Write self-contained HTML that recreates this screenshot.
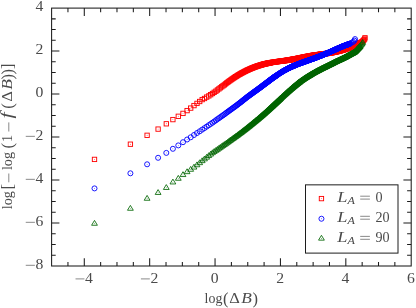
<!DOCTYPE html>
<html><head><meta charset="utf-8"><title>plot</title>
<style>
html,body{margin:0;padding:0;background:#fff;}
body{width:416px;height:308px;overflow:hidden;}
svg{display:block;font-family:"Liberation Serif",serif;}
</style></head><body>
<svg width="416" height="308" viewBox="0 0 416 308">
<defs>
<marker id="mr" markerWidth="8" markerHeight="8" refX="4" refY="4" markerUnits="userSpaceOnUse" overflow="visible"><rect x="1.83" y="1.83" width="4.34" height="4.34" fill="none" stroke="#ff0000" stroke-width="0.92"/><circle cx="4" cy="4" r="0.45" fill="#ff0000"/></marker>
<marker id="mb" markerWidth="8" markerHeight="8" refX="4" refY="4" markerUnits="userSpaceOnUse" overflow="visible"><circle cx="4" cy="4" r="2.52" fill="none" stroke="#0000ff" stroke-width="0.9"/><circle cx="4" cy="4" r="0.42" fill="#0000ff"/></marker>
<marker id="mg" markerWidth="8" markerHeight="8" refX="4" refY="4" markerUnits="userSpaceOnUse" overflow="visible"><path d="M4 1.3L6.9 6.15H1.1Z" fill="none" stroke="#006400" stroke-width="0.85"/><circle cx="4" cy="4.5" r="0.42" fill="#006400"/></marker>
</defs>
<rect width="416" height="308" fill="#fff"/>
<g>
<polyline points="94.5,159.4 130.4,144.2 147.1,135.3 158.1,129.1 166.3,123.8 172.9,119.6 178.3,116.3 183.0,113.4 187.1,110.6 190.7,108.1 194.0,105.6 197.0,103.4 199.7,101.5 202.2,99.6 204.5,98.5 206.7,97.1 208.8,95.9 210.7,94.7 212.5,93.5 214.2,92.3 215.9,91.2 217.4,90.0 218.9,88.9 220.3,87.8 221.7,86.8 223.0,85.8 224.3,84.9 225.5,83.9 226.6,83.0 227.8,82.2 228.8,81.4 229.9,80.6 230.9,79.9 231.9,79.2 232.9,78.5 233.8,77.9 234.7,77.3 235.6,76.7 236.5,76.2 237.3,75.6 238.1,75.1 238.9,74.6 239.7,74.2 240.5,73.8 241.2,73.3 241.9,72.9 242.6,72.6 243.3,72.2 244.0,71.8 244.7,71.5 245.3,71.2 246.0,70.8 246.6,70.5 247.2,70.2 247.8,70.0 248.4,69.7 249.0,69.4 249.6,69.2 250.1,68.9 250.7,68.7 251.2,68.4 251.8,68.2 252.3,68.0 252.8,67.8 253.3,67.6 253.8,67.4 254.3,67.2 254.8,67.0 255.3,66.8 255.8,66.7 256.2,66.5 256.7,66.3 257.2,66.2 257.6,66.0 258.0,65.9 258.5,65.7 258.9,65.6 259.3,65.5 259.8,65.3 260.2,65.2 260.6,65.1 261.0,65.0 261.4,64.9 261.8,64.7 262.2,64.6 262.5,64.5 262.9,64.4 263.3,64.3 263.7,64.2 264.0,64.1 264.4,64.0 264.8,63.9 265.1,63.9 265.5,63.8 265.8,63.7 266.2,63.6 266.5,63.5 266.8,63.5 267.2,63.4 267.5,63.3 267.8,63.2 268.2,63.2 268.5,63.1 268.8,63.0 269.1,63.0 269.4,62.9 269.7,62.8 270.0,62.8 270.3,62.7 270.6,62.7 270.9,62.6 271.5,62.5 272.1,62.4 272.7,62.3 273.2,62.2 273.8,62.2 274.3,62.1 274.8,62.0 275.4,61.9 275.9,61.8 276.4,61.8 276.9,61.7 277.4,61.6 277.8,61.6 278.3,61.5 278.8,61.4 279.2,61.4 279.7,61.3 280.2,61.2 280.6,61.2 281.0,61.1 281.5,61.1 281.9,61.0 282.3,61.0 282.7,60.9 283.1,60.8 283.5,60.8 283.9,60.7 284.3,60.7 284.7,60.6 285.1,60.6 285.5,60.5 285.9,60.5 286.2,60.4 286.6,60.4 287.0,60.3 287.3,60.2 287.7,60.2 288.0,60.1 288.4,60.1 288.7,60.0 289.1,60.0 289.4,59.9 289.8,59.9 290.1,59.8 290.4,59.8 290.7,59.7 291.1,59.6 291.4,59.6 291.7,59.5 292.0,59.5 292.3,59.4 292.6,59.4 292.9,59.3 293.2,59.2 293.5,59.2 293.8,59.1 294.3,59.1 294.7,59.0 295.1,58.9 295.5,58.8 295.9,58.7 296.4,58.6 296.8,58.6 297.2,58.5 297.6,58.4 297.9,58.3 298.3,58.2 298.7,58.2 299.1,58.1 299.5,58.0 299.8,57.9 300.2,57.9 300.6,57.8 300.9,57.7 301.3,57.6 301.6,57.6 302.0,57.5 302.3,57.4 302.6,57.4 303.0,57.3 303.3,57.2 303.6,57.2 304.0,57.1 304.3,57.0 304.6,57.0 304.9,56.9 305.2,56.8 305.5,56.8 305.8,56.7 306.1,56.7 306.5,56.6 306.7,56.5 307.0,56.5 307.4,56.4 307.8,56.3 308.2,56.3 308.6,56.2 308.9,56.1 309.3,56.0 309.7,56.0 310.0,55.9 310.4,55.8 310.7,55.8 311.1,55.7 311.4,55.7 311.8,55.6 312.1,55.5 312.5,55.5 312.8,55.4 313.1,55.4 313.4,55.3 313.8,55.3 314.1,55.2 314.4,55.2 314.7,55.1 315.0,55.1 315.3,55.0 315.6,55.0 315.9,54.9 316.2,54.9 316.6,54.9 316.9,54.8 317.3,54.8 317.7,54.7 318.0,54.7 318.4,54.6 318.7,54.6 319.1,54.5 319.4,54.5 319.7,54.4 320.1,54.4 320.4,54.3 320.7,54.3 321.0,54.2 321.3,54.2 321.7,54.2 322.0,54.1 322.3,54.1 322.6,54.0 322.9,54.0 323.2,54.0 323.5,53.9 323.8,53.9 324.2,53.8 324.5,53.8 324.9,53.7 325.2,53.7 325.6,53.6 325.9,53.6 326.2,53.5 326.5,53.5 326.9,53.5 327.2,53.4 327.5,53.4 327.8,53.3 328.1,53.3 328.4,53.2 328.7,53.2 329.0,53.1 329.3,53.1 329.7,53.0 330.0,53.0 330.4,52.9 330.7,52.9 331.0,52.8 331.4,52.7 331.7,52.7 332.0,52.6 332.3,52.6 332.6,52.5 332.9,52.4 333.3,52.4 333.6,52.3 333.9,52.2 334.2,52.2 334.5,52.1 334.8,52.1 335.1,52.0 335.4,51.9 335.7,51.8 336.1,51.8 336.4,51.7 336.7,51.6 337.0,51.6 337.3,51.5 337.6,51.4 338.0,51.3 338.3,51.3 338.6,51.2 338.9,51.1 339.2,51.0 339.4,51.0 339.8,50.9 340.1,50.8 340.4,50.7 340.7,50.6 341.0,50.5 341.4,50.4 341.7,50.3 342.0,50.2 342.3,50.2 342.6,50.1 342.9,50.0 343.2,49.9 343.4,49.8 343.7,49.7 344.0,49.6 344.3,49.5 344.6,49.4 345.0,49.3 345.3,49.2 345.6,49.1 345.9,49.0 346.2,48.8 346.5,48.7 346.7,48.6 347.0,48.5 347.3,48.4 347.6,48.3 347.9,48.2 348.2,48.1 348.5,48.0 348.8,47.9 349.1,47.8 349.4,47.6 349.7,47.5 350.0,47.4 350.3,47.3 350.6,47.2 350.8,47.1 351.1,47.0 351.4,46.9 351.7,46.7 352.0,46.6 352.3,46.5 352.6,46.4 352.9,46.3 353.2,46.2 353.5,46.0 353.8,45.9 354.0,45.8 354.3,45.7 354.6,45.6 354.9,45.4 355.2,45.3 355.5,45.2 355.8,45.0 356.1,44.9 356.4,44.8 356.6,44.6 356.9,44.5 357.2,44.4 357.5,44.2 357.7,44.1 358.0,43.9 358.3,43.8 358.5,43.6 358.8,43.5 359.1,43.3 359.3,43.2 359.6,43.0 359.8,42.9 360.1,42.7 360.4,42.5 361.6,41.9 362.6,41.2 363.4,40.5 364.0,39.8 364.6,39.0 365.0,37.8" fill="none" stroke="none" marker-start="url(#mr)" marker-mid="url(#mr)" marker-end="url(#mr)"/>
<polyline points="94.5,188.4 130.4,173.3 147.1,164.3 158.1,157.8 166.3,152.9 172.9,148.8 178.3,145.4 183.0,142.2 187.1,139.5 190.7,137.3 194.0,135.0 197.0,133.0 199.7,131.3 202.2,129.6 204.5,128.1 206.7,126.6 208.8,125.2 210.7,123.9 212.5,122.7 214.2,121.5 215.9,120.3 217.4,119.2 218.9,118.2 220.3,117.2 221.7,116.2 223.0,115.3 224.3,114.4 225.5,113.5 226.6,112.6 227.8,111.8 228.8,111.0 229.9,110.3 230.9,109.5 231.9,108.8 232.9,108.1 233.8,107.4 234.7,106.8 235.6,106.1 236.5,105.5 237.3,104.8 238.1,104.2 238.9,103.6 239.7,103.0 240.5,102.4 241.2,101.8 241.9,101.3 242.6,100.7 243.3,100.1 244.0,99.6 244.7,99.1 245.3,98.5 246.0,98.0 246.6,97.5 247.2,97.1 247.8,96.6 248.4,96.2 249.0,95.7 249.6,95.3 250.1,94.9 250.7,94.5 251.2,94.1 251.8,93.7 252.3,93.3 252.8,92.9 253.3,92.6 253.8,92.2 254.3,91.8 254.8,91.5 255.3,91.1 255.8,90.8 256.2,90.5 256.7,90.1 257.2,89.8 257.6,89.5 258.0,89.2 258.5,88.8 258.9,88.5 259.3,88.2 259.8,87.9 260.2,87.6 260.6,87.3 261.0,87.0 261.4,86.7 261.8,86.4 262.2,86.1 262.5,85.8 262.9,85.5 263.3,85.2 263.7,85.0 264.0,84.7 264.4,84.4 264.8,84.1 265.1,83.9 265.5,83.6 265.8,83.3 266.2,83.1 266.5,82.8 266.8,82.6 267.2,82.3 267.5,82.1 267.8,81.8 268.2,81.6 268.5,81.3 268.8,81.1 269.1,80.9 269.4,80.6 269.7,80.4 270.0,80.2 270.3,79.9 270.6,79.7 270.9,79.5 271.2,79.3 271.5,79.1 271.8,78.8 272.1,78.6 272.4,78.4 272.7,78.2 272.9,78.0 273.2,77.8 273.5,77.6 273.8,77.4 274.0,77.2 274.3,77.0 274.6,76.8 274.8,76.7 275.1,76.5 275.4,76.3 275.6,76.1 275.9,75.9 276.1,75.8 276.4,75.6 276.6,75.4 276.9,75.2 277.4,74.9 277.8,74.6 278.3,74.3 278.8,73.9 279.2,73.6 279.7,73.3 280.2,73.1 280.6,72.8 281.0,72.5 281.5,72.2 281.9,72.0 282.3,71.7 282.7,71.5 283.1,71.2 283.5,71.0 283.9,70.7 284.3,70.5 284.7,70.3 285.1,70.1 285.5,69.9 285.9,69.7 286.2,69.5 286.6,69.3 287.0,69.1 287.3,68.9 287.7,68.7 288.0,68.5 288.4,68.3 288.7,68.2 289.1,68.0 289.4,67.8 289.8,67.7 290.1,67.5 290.4,67.3 290.7,67.2 291.1,67.1 291.4,66.9 291.7,66.8 292.0,66.6 292.3,66.5 292.6,66.4 292.9,66.2 293.2,66.1 293.5,66.0 293.8,65.9 294.1,65.7 294.4,65.6 294.7,65.5 295.0,65.4 295.3,65.3 295.5,65.1 295.9,65.0 296.4,64.8 296.8,64.6 297.2,64.5 297.6,64.3 297.9,64.2 298.3,64.0 298.7,63.9 299.1,63.7 299.5,63.6 299.8,63.5 300.2,63.3 300.6,63.2 300.9,63.1 301.3,62.9 301.6,62.8 302.0,62.7 302.3,62.6 302.6,62.4 303.0,62.3 303.3,62.2 303.6,62.1 304.0,62.0 304.3,61.8 304.6,61.7 304.9,61.6 305.2,61.5 305.5,61.4 305.8,61.3 306.1,61.2 306.5,61.1 306.7,61.0 307.0,60.9 307.3,60.8 307.6,60.7 307.9,60.6 308.2,60.5 308.6,60.3 308.9,60.2 309.3,60.1 309.7,59.9 310.0,59.8 310.4,59.7 310.7,59.6 311.1,59.4 311.4,59.3 311.8,59.2 312.1,59.1 312.5,59.0 312.8,58.8 313.1,58.7 313.4,58.6 313.8,58.5 314.1,58.4 314.4,58.2 314.7,58.1 315.0,58.0 315.3,57.9 315.6,57.8 315.9,57.7 316.2,57.5 316.5,57.4 316.8,57.3 317.1,57.2 317.4,57.1 317.7,57.0 317.9,56.9 318.3,56.8 318.6,56.6 319.0,56.5 319.3,56.4 319.7,56.2 320.0,56.1 320.3,56.0 320.6,55.8 321.0,55.7 321.3,55.6 321.6,55.5 321.9,55.3 322.2,55.2 322.5,55.1 322.8,55.0 323.1,54.9 323.4,54.7 323.7,54.6 324.0,54.5 324.3,54.4 324.6,54.3 324.9,54.1 325.2,54.0 325.4,53.9 325.7,53.8 326.1,53.7 326.4,53.5 326.7,53.4 327.0,53.3 327.3,53.1 327.7,53.0 328.0,52.9 328.3,52.7 328.6,52.6 328.9,52.5 329.2,52.3 329.5,52.2 329.8,52.1 330.1,51.9 330.4,51.8 330.6,51.7 330.9,51.6 331.2,51.4 331.5,51.3 331.8,51.2 332.0,51.1 332.4,50.9 332.7,50.8 333.0,50.6 333.3,50.5 333.6,50.4 333.9,50.2 334.2,50.1 334.5,49.9 334.8,49.8 335.1,49.7 335.4,49.5 335.7,49.4 336.0,49.3 336.2,49.2 336.5,49.0 336.8,48.9 337.1,48.8 337.4,48.6 337.7,48.5 338.0,48.4 338.3,48.2 338.6,48.1 338.9,48.0 339.2,47.8 339.5,47.7 339.8,47.6 340.1,47.5 340.3,47.3 340.6,47.2 340.9,47.1 341.2,47.0 341.5,46.9 341.8,46.7 342.1,46.6 342.4,46.5 342.7,46.4 343.0,46.2 343.3,46.1 343.6,46.0 343.9,45.9 344.1,45.8 344.4,45.7 344.7,45.6 345.0,45.5 345.4,45.3 345.7,45.2 346.0,45.1 346.3,45.0 346.5,44.9 346.8,44.8 347.1,44.7 347.4,44.6 347.7,44.5 348.0,44.4 348.3,44.3 348.6,44.2 348.9,44.1 349.2,44.0 349.5,43.9 349.8,43.7 350.1,43.6 351.6,42.7 353.2,41.9 354.4,40.6 355.0,39.1" fill="none" stroke="none" marker-start="url(#mb)" marker-mid="url(#mb)" marker-end="url(#mb)"/>
<polyline points="94.5,223.1 130.4,208.1 147.1,198.1 158.1,192.3 166.3,187.3 172.9,181.8 178.3,178.1 183.0,174.4 187.1,171.5 190.7,169.1 194.0,166.9 197.0,164.6 199.7,162.5 202.2,160.5 204.5,158.7 206.7,157.0 208.8,155.4 210.7,153.9 212.5,152.5 214.2,151.3 215.9,150.2 217.4,149.2 218.9,148.1 220.3,147.2 221.7,146.2 223.0,145.3 224.3,144.4 225.5,143.6 226.6,142.8 227.8,142.0 228.8,141.2 229.9,140.4 230.9,139.7 231.9,139.0 232.9,138.3 233.8,137.6 234.7,137.0 235.6,136.3 236.5,135.7 237.3,135.1 238.1,134.5 238.9,133.9 239.7,133.3 240.5,132.7 241.2,132.2 241.9,131.6 242.6,131.1 243.3,130.5 244.0,130.0 244.7,129.5 245.3,129.0 246.0,128.5 246.6,128.0 247.2,127.5 247.8,127.0 248.4,126.5 249.0,126.1 249.6,125.6 250.1,125.1 250.7,124.7 251.2,124.3 251.8,123.8 252.3,123.4 252.8,123.0 253.3,122.5 253.8,122.1 254.3,121.7 254.8,121.3 255.3,120.9 255.8,120.5 256.2,120.1 256.7,119.7 257.2,119.4 257.6,119.0 258.0,118.6 258.5,118.2 258.9,117.9 259.3,117.5 259.8,117.2 260.2,116.8 260.6,116.4 261.0,116.1 261.4,115.7 261.8,115.4 262.2,115.1 262.5,114.7 262.9,114.4 263.3,114.1 263.7,113.7 264.0,113.4 264.4,113.1 264.8,112.8 265.1,112.5 265.5,112.1 265.8,111.8 266.2,111.5 266.5,111.2 266.8,110.9 267.2,110.6 267.5,110.3 267.8,110.0 268.2,109.7 268.5,109.4 268.8,109.1 269.1,108.8 269.4,108.6 269.7,108.3 270.0,108.0 270.3,107.7 270.6,107.4 270.9,107.2 271.2,106.9 271.5,106.6 271.8,106.3 272.1,106.1 272.4,105.8 272.7,105.6 272.9,105.3 273.2,105.0 273.5,104.8 273.8,104.5 274.0,104.3 274.3,104.0 274.6,103.8 274.8,103.5 275.1,103.3 275.4,103.0 275.6,102.8 275.9,102.6 276.1,102.3 276.4,102.1 276.6,101.8 276.9,101.6 277.1,101.4 277.4,101.2 277.6,100.9 277.8,100.7 278.1,100.5 278.3,100.3 278.6,100.0 278.8,99.8 279.0,99.6 279.2,99.4 279.5,99.2 279.7,99.0 279.9,98.8 280.2,98.5 280.4,98.3 280.6,98.1 281.0,97.7 281.5,97.3 281.9,96.9 282.3,96.5 282.7,96.2 283.1,95.8 283.5,95.4 283.9,95.0 284.3,94.7 284.7,94.3 285.1,94.0 285.5,93.6 285.9,93.3 286.2,92.9 286.6,92.6 287.0,92.3 287.3,91.9 287.7,91.6 288.0,91.3 288.4,91.0 288.7,90.7 289.1,90.4 289.4,90.1 289.8,89.8 290.1,89.5 290.4,89.2 290.7,88.9 291.1,88.7 291.4,88.4 291.7,88.1 292.0,87.9 292.3,87.6 292.6,87.3 292.9,87.1 293.2,86.8 293.5,86.6 293.8,86.3 294.1,86.1 294.4,85.8 294.7,85.6 295.0,85.4 295.3,85.1 295.5,84.9 295.8,84.7 296.1,84.4 296.4,84.2 296.6,84.0 296.9,83.8 297.2,83.6 297.4,83.4 297.7,83.2 297.9,83.0 298.2,82.7 298.5,82.5 298.7,82.3 299.0,82.2 299.2,82.0 299.5,81.8 299.7,81.6 300.0,81.4 300.3,81.1 300.7,80.9 301.0,80.6 301.4,80.4 301.7,80.1 302.1,79.9 302.4,79.7 302.8,79.4 303.1,79.2 303.4,79.0 303.7,78.8 304.1,78.5 304.4,78.3 304.7,78.1 305.0,77.9 305.3,77.7 305.6,77.5 305.9,77.3 306.3,77.1 306.6,76.9 306.8,76.7 307.1,76.6 307.4,76.4 307.7,76.2 308.0,76.0 308.3,75.9 308.6,75.7 308.9,75.5 309.1,75.4 309.4,75.2 309.7,75.0 309.9,74.9 310.2,74.7 310.5,74.6 310.7,74.4 311.0,74.2 311.3,74.1 311.5,73.9 311.9,73.7 312.2,73.5 312.5,73.3 312.9,73.1 313.2,72.9 313.5,72.8 313.8,72.6 314.2,72.4 314.5,72.2 314.8,72.0 315.1,71.9 315.4,71.7 315.7,71.5 316.0,71.4 316.3,71.2 316.6,71.1 316.9,70.9 317.2,70.8 317.4,70.6 317.7,70.5 318.0,70.3 318.3,70.2 318.6,70.0 318.8,69.9 319.1,69.7 319.4,69.6 319.7,69.5 320.0,69.3 320.3,69.1 320.6,69.0 321.0,68.8 321.3,68.6 321.6,68.5 321.9,68.3 322.2,68.2 322.5,68.0 322.8,67.9 323.1,67.7 323.4,67.6 323.7,67.4 324.0,67.3 324.3,67.1 324.6,67.0 324.9,66.9 325.2,66.7 325.4,66.6 325.7,66.5 326.0,66.3 326.3,66.2 326.5,66.0 326.9,65.9 327.2,65.7 327.5,65.6 327.8,65.4 328.1,65.3 328.4,65.1 328.7,65.0 329.0,64.8 329.3,64.7 329.6,64.5 329.9,64.4 330.2,64.2 330.5,64.1 330.8,63.9 331.1,63.8 331.4,63.7 331.6,63.5 331.9,63.4 332.2,63.2 332.5,63.1 332.7,63.0 333.0,62.8 333.3,62.7 333.6,62.5 333.9,62.3 334.2,62.2 334.5,62.0 334.8,61.9 335.1,61.7 335.4,61.6 335.7,61.5 336.0,61.3 336.2,61.2 336.5,61.1 336.8,60.9 337.1,60.8 337.4,60.7 337.7,60.5 338.0,60.4 338.3,60.3 338.6,60.1 338.9,60.0 339.2,59.8 339.5,59.7 339.8,59.6 340.1,59.4 340.3,59.3 340.6,59.2 340.9,59.0 341.2,58.9 341.5,58.8 341.7,58.7 342.0,58.5 342.3,58.4 342.6,58.2 342.9,58.1 343.2,57.9 343.5,57.8 343.8,57.7 344.1,57.5 344.4,57.4 344.6,57.3 344.9,57.1 345.2,57.0 345.5,56.8 345.7,56.7 346.0,56.5 346.3,56.4 346.5,56.2 346.8,56.1 347.1,55.9 347.4,55.8 347.7,55.6 347.9,55.4 348.2,55.3 348.5,55.1 348.8,55.0 349.1,54.8 349.3,54.7 349.6,54.5 349.9,54.4 350.1,54.2 350.4,54.1 350.7,53.9 351.0,53.8 351.3,53.6 351.5,53.5 351.8,53.3 352.1,53.2 352.4,53.0 352.6,52.9 352.9,52.8 353.2,52.6 353.5,52.5 353.8,52.3 354.0,52.1 354.3,52.0 354.6,51.8 354.8,51.5 355.0,51.3 355.3,51.1 355.5,50.9 355.7,50.7 355.9,50.5 356.1,50.3 356.4,50.0 356.6,49.8 356.8,49.6 357.0,49.3 357.2,49.1 357.4,48.9 357.6,48.6 357.8,48.4 358.1,48.2 358.3,48.0 358.5,47.7 358.7,47.5 358.9,47.3 359.2,47.0 359.4,46.8 359.6,46.6 359.8,46.3 360.0,46.1 360.2,45.9 361.1,44.9 361.8,43.9 362.3,43.0 362.7,42.1" fill="none" stroke="none" marker-start="url(#mg)" marker-mid="url(#mg)" marker-end="url(#mg)"/>
</g>
<g stroke="#1c1c1c" stroke-width="1.05" fill="none">
<path d="M67.95 266.00v-4.10M67.95 8.10v4.10"/><path d="M84.29 266.00v-7.80M84.29 8.10v7.80"/><path d="M100.64 266.00v-4.10M100.64 8.10v4.10"/><path d="M116.98 266.00v-4.10M116.98 8.10v4.10"/><path d="M133.33 266.00v-4.10M133.33 8.10v4.10"/><path d="M149.67 266.00v-7.80M149.67 8.10v7.80"/><path d="M166.02 266.00v-4.10M166.02 8.10v4.10"/><path d="M182.36 266.00v-4.10M182.36 8.10v4.10"/><path d="M198.71 266.00v-4.10M198.71 8.10v4.10"/><path d="M215.05 266.00v-7.80M215.05 8.10v7.80"/><path d="M231.40 266.00v-4.10M231.40 8.10v4.10"/><path d="M247.75 266.00v-4.10M247.75 8.10v4.10"/><path d="M264.09 266.00v-4.10M264.09 8.10v4.10"/><path d="M280.44 266.00v-7.80M280.44 8.10v7.80"/><path d="M296.78 266.00v-4.10M296.78 8.10v4.10"/><path d="M313.13 266.00v-4.10M313.13 8.10v4.10"/><path d="M329.47 266.00v-4.10M329.47 8.10v4.10"/><path d="M345.82 266.00v-7.80M345.82 8.10v7.80"/><path d="M362.16 266.00v-4.10M362.16 8.10v4.10"/><path d="M378.51 266.00v-4.10M378.51 8.10v4.10"/><path d="M394.85 266.00v-4.10M394.85 8.10v4.10"/><path d="M51.60 255.25h4.10M411.20 255.25h-4.10"/><path d="M51.60 244.51h4.10M411.20 244.51h-4.10"/><path d="M51.60 233.76h4.10M411.20 233.76h-4.10"/><path d="M51.60 223.02h7.80M411.20 223.02h-7.80"/><path d="M51.60 212.27h4.10M411.20 212.27h-4.10"/><path d="M51.60 201.52h4.10M411.20 201.52h-4.10"/><path d="M51.60 190.78h4.10M411.20 190.78h-4.10"/><path d="M51.60 180.03h7.80M411.20 180.03h-7.80"/><path d="M51.60 169.29h4.10M411.20 169.29h-4.10"/><path d="M51.60 158.54h4.10M411.20 158.54h-4.10"/><path d="M51.60 147.80h4.10M411.20 147.80h-4.10"/><path d="M51.60 137.05h7.80M411.20 137.05h-7.80"/><path d="M51.60 126.30h4.10M411.20 126.30h-4.10"/><path d="M51.60 115.56h4.10M411.20 115.56h-4.10"/><path d="M51.60 104.81h4.10M411.20 104.81h-4.10"/><path d="M51.60 94.07h7.80M411.20 94.07h-7.80"/><path d="M51.60 83.32h4.10M411.20 83.32h-4.10"/><path d="M51.60 72.57h4.10M411.20 72.57h-4.10"/><path d="M51.60 61.83h4.10M411.20 61.83h-4.10"/><path d="M51.60 51.08h7.80M411.20 51.08h-7.80"/><path d="M51.60 40.34h4.10M411.20 40.34h-4.10"/><path d="M51.60 29.59h4.10M411.20 29.59h-4.10"/><path d="M51.60 18.85h4.10M411.20 18.85h-4.10"/>
<rect x="51.6" y="8.1" width="359.6" height="257.9"/>
</g>
<g fill="#4a4a4a" style="filter:grayscale(1)">
<path d="M75.54 278.90H84.44" stroke="#4a4a4a" stroke-width="0.65" fill="none"/><text x="85.04" y="283.00" font-size="14.0px" textLength="7.84" lengthAdjust="spacingAndGlyphs">4</text><path d="M140.92 278.90H149.82" stroke="#4a4a4a" stroke-width="0.65" fill="none"/><text x="150.42" y="283.00" font-size="14.0px" textLength="7.84" lengthAdjust="spacingAndGlyphs">2</text><text x="210.83" y="283.00" font-size="14.0px" textLength="7.84" lengthAdjust="spacingAndGlyphs">0</text><text x="276.22" y="283.00" font-size="14.0px" textLength="7.84" lengthAdjust="spacingAndGlyphs">2</text><text x="341.60" y="283.00" font-size="14.0px" textLength="7.84" lengthAdjust="spacingAndGlyphs">4</text><text x="406.98" y="283.00" font-size="14.0px" textLength="7.84" lengthAdjust="spacingAndGlyphs">6</text><text x="35.56" y="10.90" font-size="14.0px" textLength="7.84" lengthAdjust="spacingAndGlyphs">4</text><text x="35.56" y="53.88" font-size="14.0px" textLength="7.84" lengthAdjust="spacingAndGlyphs">2</text><text x="35.56" y="96.87" font-size="14.0px" textLength="7.84" lengthAdjust="spacingAndGlyphs">0</text><text x="35.56" y="139.85" font-size="14.0px" textLength="7.84" lengthAdjust="spacingAndGlyphs">2</text><path d="M25.75 136.35H34.90" stroke="#4a4a4a" stroke-width="0.65" fill="none"/><text x="35.56" y="182.83" font-size="14.0px" textLength="7.84" lengthAdjust="spacingAndGlyphs">4</text><path d="M25.75 179.33H34.90" stroke="#4a4a4a" stroke-width="0.65" fill="none"/><text x="35.56" y="225.82" font-size="14.0px" textLength="7.84" lengthAdjust="spacingAndGlyphs">6</text><path d="M25.75 222.32H34.90" stroke="#4a4a4a" stroke-width="0.65" fill="none"/><text x="35.56" y="268.80" font-size="14.0px" textLength="7.84" lengthAdjust="spacingAndGlyphs">8</text><path d="M25.75 265.30H34.90" stroke="#4a4a4a" stroke-width="0.65" fill="none"/>
<g font-size="14.2px"><text x="204.6" y="302.8" textLength="17.8" lengthAdjust="spacingAndGlyphs">log</text><text x="223.0" y="303.5" font-size="16.5px">(</text><text x="229.3" y="302.8" textLength="10.6" lengthAdjust="spacingAndGlyphs">Δ</text><text x="241.2" y="302.8" font-style="italic" textLength="10.6" lengthAdjust="spacingAndGlyphs">B</text><text x="252.4" y="303.5" font-size="16.5px">)</text></g>
<g font-size="14.2px" transform="translate(12.4 209.1) rotate(-90)"><text x="-0.20" y="0" textLength="18.20" lengthAdjust="spacingAndGlyphs">log</text><text x="19.60" font-size="16.5px" y="0.7">[</text><path d="M26.8 -3.6H35.6" stroke="#4a4a4a" stroke-width="0.65" fill="none"/><text x="39.00" y="0" textLength="18.20" lengthAdjust="spacingAndGlyphs">log</text><text x="60.50" font-size="16.5px" y="0.7">(</text><text x="67.20" y="0">1</text><path d="M77.6 -3.6H86.7" stroke="#4a4a4a" stroke-width="0.65" fill="none"/><text x="90.6" y="0" font-size="17px" font-style="italic" textLength="6.1" lengthAdjust="spacingAndGlyphs">f</text><text x="100.30" font-size="16.5px" y="0.7">(</text><text x="107.40" y="0" textLength="10.60" lengthAdjust="spacingAndGlyphs">Δ</text><text x="119.40" y="0" textLength="10.60" lengthAdjust="spacingAndGlyphs" font-style="italic">B</text><text x="129.60" font-size="16.5px" y="0.7">)</text><text x="134.50" font-size="16.5px" y="0.7">)</text><text x="140.20" font-size="16.5px" y="0.7">]</text></g>
</g>
<g>
<rect x="305.5" y="184.85" width="92.5" height="68.25" fill="#fff" stroke="#1c1c1c" stroke-width="1.0"/>
<rect x="319.28" y="196.43" width="4.34" height="4.34" fill="none" stroke="#ff0000" stroke-width="0.92"/><circle cx="321.45" cy="198.6" r="0.45" fill="#ff0000"/>
<circle cx="321.45" cy="218.75" r="2.52" fill="none" stroke="#0000ff" stroke-width="0.9"/><circle cx="321.45" cy="218.75" r="0.42" fill="#0000ff"/>
<path d="M321.45 235.3L324.35 240.15H318.55Z" fill="none" stroke="#006400" stroke-width="0.85"/><circle cx="321.45" cy="238.5" r="0.42" fill="#006400"/>
<g fill="#4a4a4a" style="filter:grayscale(1)">
<text x="337.3" y="201.7" font-size="15.2px" font-style="italic" textLength="10.2" lengthAdjust="spacingAndGlyphs">L</text><text x="347.6" y="204.0" font-size="10.6px" font-style="italic" textLength="7.4" lengthAdjust="spacingAndGlyphs">A</text><path d="M360.2 196.20H369.9M360.2 199.10H369.9" stroke="#4a4a4a" stroke-width="0.65" fill="none"/><text x="375.4" y="201.7" font-size="15.2px" textLength="7.07" lengthAdjust="spacingAndGlyphs">0</text><text x="337.3" y="221.8" font-size="15.2px" font-style="italic" textLength="10.2" lengthAdjust="spacingAndGlyphs">L</text><text x="347.6" y="224.1" font-size="10.6px" font-style="italic" textLength="7.4" lengthAdjust="spacingAndGlyphs">A</text><path d="M360.2 216.30H369.9M360.2 219.20H369.9" stroke="#4a4a4a" stroke-width="0.65" fill="none"/><text x="375.4" y="221.8" font-size="15.2px" textLength="14.14" lengthAdjust="spacingAndGlyphs">20</text><text x="337.3" y="241.9" font-size="15.2px" font-style="italic" textLength="10.2" lengthAdjust="spacingAndGlyphs">L</text><text x="347.6" y="244.2" font-size="10.6px" font-style="italic" textLength="7.4" lengthAdjust="spacingAndGlyphs">A</text><path d="M360.2 236.40H369.9M360.2 239.30H369.9" stroke="#4a4a4a" stroke-width="0.65" fill="none"/><text x="375.4" y="241.9" font-size="15.2px" textLength="14.14" lengthAdjust="spacingAndGlyphs">90</text>
</g>
</g>
</svg>
</body></html>
